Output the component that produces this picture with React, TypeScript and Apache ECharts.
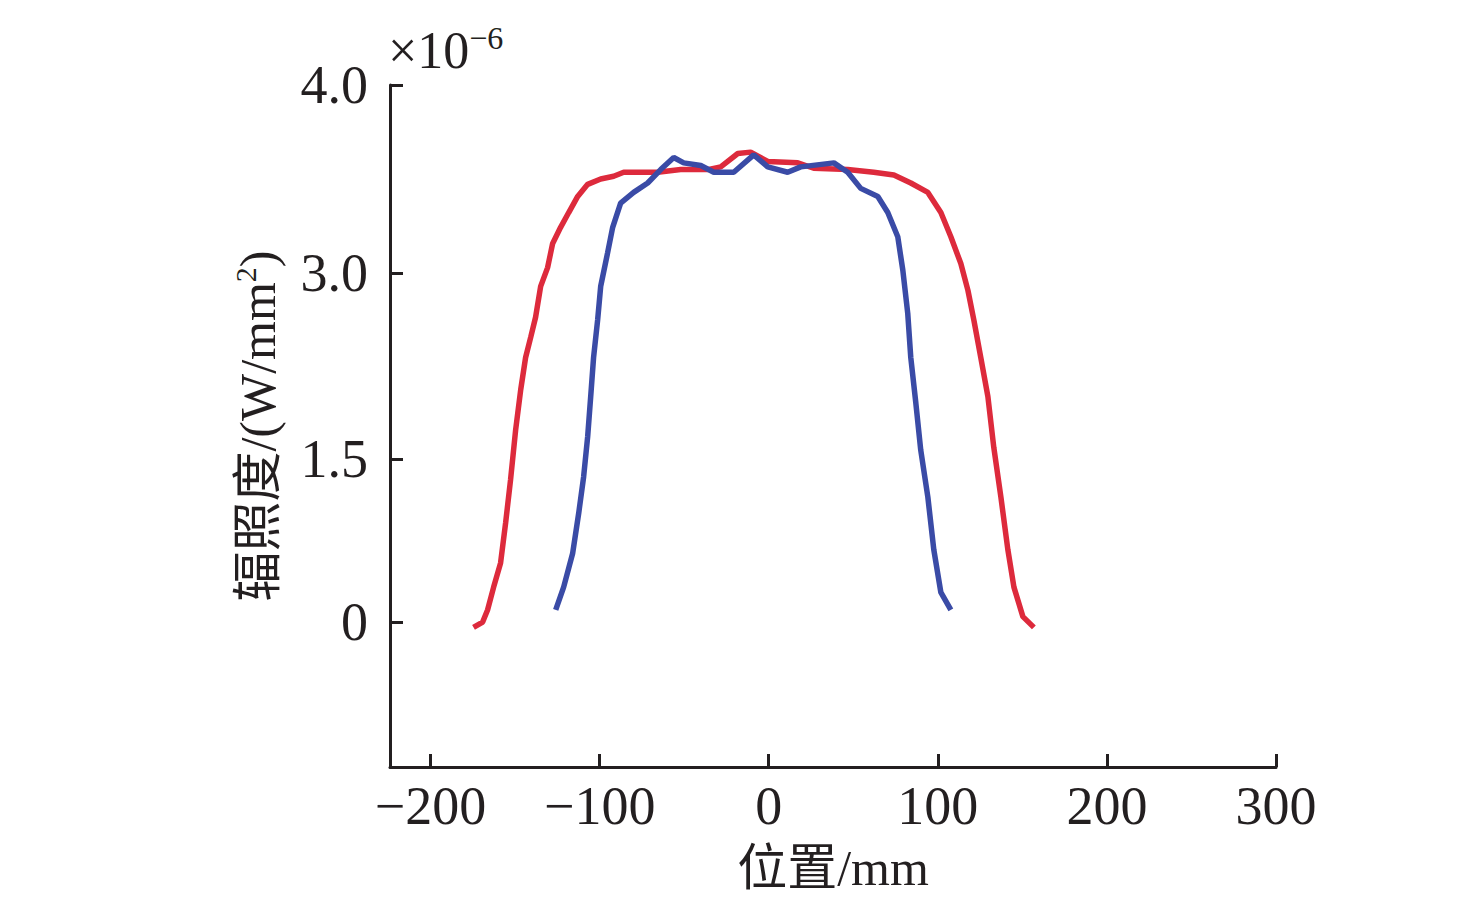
import { useEffect, useRef } from "react";
import * as echarts from "echarts";

// 位置 (mm)，辐照度（按图上纵轴的像素刻度读出，线性内部单位：0 与 4.0 刻度对齐）
const RED_X = [
  -174.6, -169.2, -166.3, -162.7, -158.6, -155.6, -152.7, -149.7, -146.7, -143.8,
  -140.8, -137.9, -134.9, -130.8, -127.8, -123.1, -118.3, -113.0, -107.1, -99.4,
  -91.7, -85.8, -75.7, -65.7, -52.1, -36.1, -28.4, -18.3, -10.7, -0.6,
  17.2, 26.6, 46.7, 62.1, 74.0, 84.0, 94.1, 101.8, 107.7, 113.6,
  117.8, 121.3, 125.4, 129.6, 133.1, 137.3, 141.4, 145.0, 150.3, 156.8,
];
const RED_Y = [
  -0.04, 0.0, 0.09, 0.26, 0.44, 0.74, 1.06, 1.43, 1.73, 1.97,
  2.12, 2.27, 2.5, 2.64, 2.82, 2.94, 3.05, 3.17, 3.26, 3.3,
  3.32, 3.35, 3.35, 3.35, 3.37, 3.37, 3.39, 3.49, 3.5, 3.43,
  3.42, 3.38, 3.37, 3.35, 3.33, 3.27, 3.2, 3.05, 2.87, 2.67,
  2.47, 2.25, 1.97, 1.68, 1.3, 0.93, 0.54, 0.26, 0.04, -0.04,
];
const BLUE_X = [
  -126.0, -121.3, -116.0, -112.4, -109.5, -107.1, -105.3, -103.6, -101.2, -99.4,
  -95.3, -92.3, -87.6, -79.9, -71.6, -63.9, -56.2, -50.3, -40.2, -32.5,
  -20.7, -8.9, -0.6, 11.2, 18.9, 38.5, 46.7, 54.4, 64.5, 70.4,
  76.3, 79.3, 82.2, 84.0, 87.0, 89.9, 94.1, 97.6, 101.8, 107.7,
];
const BLUE_Y = [
  0.09, 0.26, 0.51, 0.81, 1.08, 1.38, 1.68, 1.97, 2.25, 2.5,
  2.75, 2.94, 3.12, 3.2, 3.27, 3.37, 3.46, 3.42, 3.4, 3.35,
  3.35, 3.48, 3.39, 3.35, 3.39, 3.42, 3.35, 3.23, 3.17, 3.05,
  2.87, 2.62, 2.3, 1.97, 1.63, 1.28, 0.93, 0.54, 0.22, 0.09,
];

const X_TICKS = [-200, -100, 0, 100, 200, 300];
const Y_TICK_POS = [0, 1.214, 2.6, 4.0];
const Y_TICK_LABELS = ["0", "1.5", "3.0", "4.0"];

const RED = "#dd2a3c";
const BLUE = "#3a4ba6";
const INK = "#231f20";
const FONT = '"Liberation Serif", "Times New Roman", "Noto Sans CJK SC", serif';

export default function App() {
  const ref = useRef<HTMLDivElement>(null);
  useEffect(() => {
    if (!ref.current) return;
    const chart = echarts.init(ref.current, undefined, { renderer: "svg" });
    chart.setOption({
      animation: false,
      backgroundColor: "#ffffff",
      grid: { left: 390, top: 85, width: 886, height: 682 },
      xAxis: {
        type: "value",
        min: -224,
        max: 300,
        name: "位置/mm",
        nameLocation: "middle",
        nameGap: 76,
        nameTextStyle: { color: INK, fontSize: 50, fontFamily: FONT },
        axisLine: { onZero: false, lineStyle: { color: INK, width: 3 } },
        axisTick: { inside: true, length: 13, lineStyle: { color: INK, width: 3 }, customValues: X_TICKS },
        axisLabel: {
          customValues: X_TICKS,
          color: INK,
          fontSize: 54,
          fontFamily: FONT,
          margin: 12,
          formatter: (v: number) => (v < 0 ? "\u2212" + Math.abs(v) : String(v)),
        },
        splitLine: { show: false },
      },
      yAxis: {
        type: "value",
        min: -1.08,
        max: 4.0,
        name: "{t|辐照度/(W/mm}{s|2}{t|)}",
        nameLocation: "middle",
        nameGap: 104,
        nameTextStyle: {
          color: INK,
          fontFamily: FONT,
          rich: {
            t: { fontSize: 50, fontFamily: FONT, color: INK, lineHeight: 56 },
            s: { fontSize: 30, fontFamily: FONT, color: INK, verticalAlign: "top", lineHeight: 56 },
          },
        },
        axisLine: { show: true, onZero: false, lineStyle: { color: INK, width: 3 } },
        axisTick: { show: true, inside: true, length: 13, lineStyle: { color: INK, width: 3 }, customValues: Y_TICK_POS },
        axisLabel: {
          customValues: Y_TICK_POS,
          color: INK,
          fontSize: 54,
          fontFamily: FONT,
          margin: 22,
          formatter: (v: number) => {
            let best = 0;
            Y_TICK_POS.forEach((p, i) => {
              if (Math.abs(p - v) < Math.abs(Y_TICK_POS[best] - v)) best = i;
            });
            return Y_TICK_LABELS[best];
          },
        },
        splitLine: { show: false },
      },
      graphic: [
        {
          type: "text",
          left: 388,
          top: 22,
          style: {
            text: "{a|×10}{b|\u22126}",
            rich: {
              a: { fontSize: 52, fontFamily: FONT, fill: INK, lineHeight: 56 },
              b: { fontSize: 32, fontFamily: FONT, fill: INK, verticalAlign: "top", lineHeight: 56 },
            },
          },
        },
      ],
      series: [
        {
          name: "red",
          type: "line",
          data: RED_X.map((x, i) => [x, RED_Y[i]]),
          showSymbol: false,
          lineStyle: { color: RED, width: 5.5 },
          itemStyle: { color: RED },
        },
        {
          name: "blue",
          type: "line",
          data: BLUE_X.map((x, i) => [x, BLUE_Y[i]]),
          showSymbol: false,
          lineStyle: { color: BLUE, width: 5.5 },
          itemStyle: { color: BLUE },
        },
      ],
    });
    return () => chart.dispose();
  }, []);
  return (
    <div
      ref={ref}
      style={{ position: "absolute", left: 0, top: 0, width: 1476, height: 914 }}
    />
  );
}
